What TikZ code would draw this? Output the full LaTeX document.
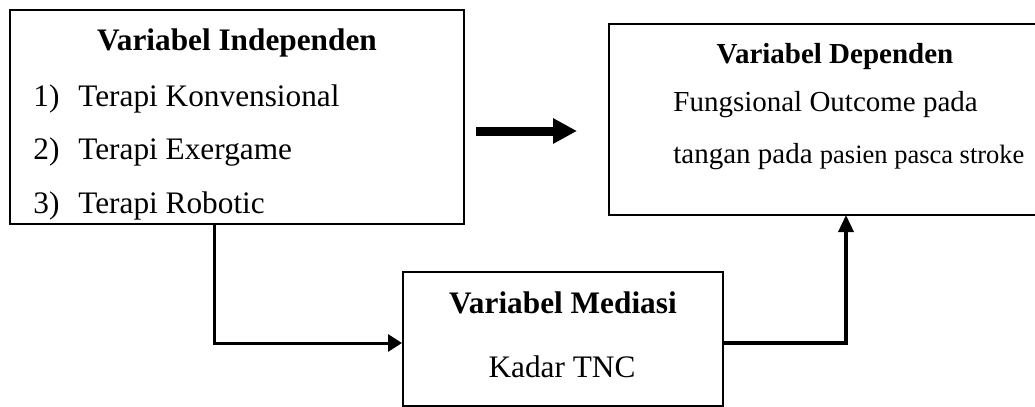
\documentclass[tikz,border=0pt]{standalone}
\usepackage{fontspec}
\setmainfont{Liberation Serif}
\usetikzlibrary{arrows.meta}
\tikzset{
  boxshape/.style={draw=black, line width=1pt, rectangle, inner sep=0pt},
  txt/.style={inner sep=0pt, font=\fontsize{15.65pt}{18pt}\selectfont},
  txtd/.style={inner sep=0pt, font=\fontsize{14.5pt}{17pt}\selectfont},
  conn/.style={line width=1.5pt, line cap=butt},
}
\begin{document}
\begin{tikzpicture}[x=0.5pt,y=-0.5pt]
\useasboundingbox (0,0) rectangle (1035,407);
\begin{scope}
\clip (0,0) rectangle (1035,407);
% boxes
\node[boxshape, minimum width=227pt, minimum height=107pt] (indep) at (237,117) {};
\node[boxshape, minimum width=214pt, minimum height=95.5pt] (dep) at (823,119.5) {};
\node[boxshape, minimum width=160pt, minimum height=67pt] (med) at (563,339) {};
\end{scope}
% texts: independen
\node[txt, font=\fontsize{15.65pt}{18pt}\selectfont\bfseries, anchor=base] (t1) at (237,50) {Variabel Independen};
\node[txt, anchor=base west] (l1) at (33,106) {\makebox[22.5pt][l]{1)}Terapi Konvensional};
\node[txt, anchor=base west] (l2) at (33,159) {\makebox[22.5pt][l]{2)}Terapi Exergame};
\node[txt, anchor=base west] (l3) at (33,213) {\makebox[22.5pt][l]{3)}Terapi Robotic};
% texts: dependen
\node[txtd, font=\fontsize{14.5pt}{17pt}\selectfont\bfseries, anchor=base] (t2) at (835,63) {Variabel Dependen};
\node[txtd, anchor=base west] (d1) at (673,112) {Fungsional Outcome pada};
\node[txtd, anchor=base west] (d2) at (673,163) {tangan pada {\fontsize{13.25pt}{16pt}\selectfont pasien pasca stroke}};
% texts: mediasi
\node[txt, font=\fontsize{15.65pt}{18pt}\selectfont\bfseries, anchor=base] (t3) at (563,313) {Variabel Mediasi};
\node[txt, anchor=base] (m1) at (562,377) {Kadar TNC};
% connectors
\coordinate (c1) at (214,224);
\coordinate (c2) at (846,215);
\draw[conn, -{Triangle[length=7pt,width=8.5pt]}] (c1) |- ([yshift=-2pt]med.west);
\draw[conn, line width=1.75pt, -{Triangle[length=8.5pt,width=7.5pt]}] ([yshift=-2pt]med.east) -| (c2);
% thick arrow
\coordinate (a1) at (476,131);
\coordinate (a2) at (577,131);
\draw[line width=4.5pt, -{Triangle[length=12pt,width=12pt]}] (a1) -- (a2);
\end{tikzpicture}
\end{document}
